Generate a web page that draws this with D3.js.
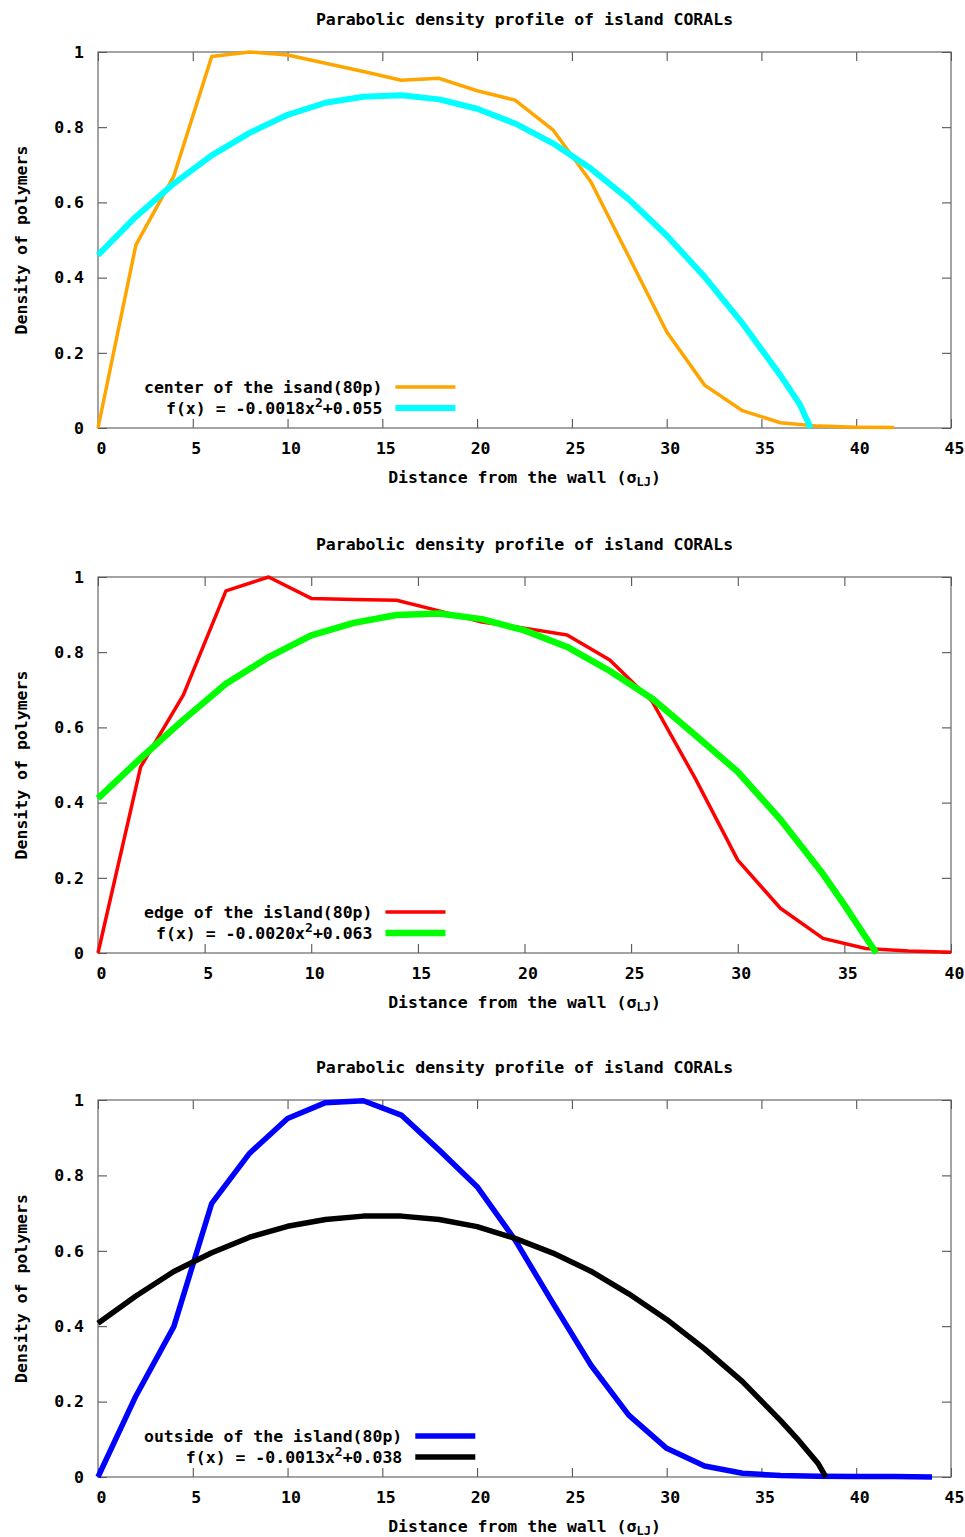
<!DOCTYPE html>
<html>
<head>
<meta charset="utf-8">
<script src="https://cdn.jsdelivr.net/npm/d3@7"></script>
<style>
  body { margin: 0; background: #fff; }
  text { font-family: "DejaVu Sans Mono", monospace; font-size: 16.5px; font-weight: bold; fill: #000; }
</style>
</head>
<body>
<svg id="chart" width="965" height="1537"></svg>
<script>
// --- data ---
const titleText = "Parabolic density profile of island CORALs";
const yTicks = [0, 0.2, 0.4, 0.6, 0.8, 1];

// panel 1: center of the island
const centerX = [0, 2, 4, 6, 8, 10, 12, 14, 16, 18, 20, 22, 24, 26, 28, 30, 32, 34, 36, 38, 40, 42];
const centerY = [0, 0.487, 0.67, 0.988, 1.0, 0.992, 0.97, 0.948, 0.925, 0.93, 0.897, 0.872, 0.793, 0.655, 0.456, 0.256, 0.114, 0.046, 0.014, 0.005, 0.002, 0.001];
const centerFitX = [0, 2, 4, 6, 8, 10, 12, 14, 16, 18, 20, 22, 24, 26, 28, 30, 32, 34, 36, 37, 37.6];
const centerFitY = [0.46, 0.562, 0.65, 0.725, 0.785, 0.833, 0.865, 0.881, 0.885, 0.874, 0.849, 0.81, 0.757, 0.69, 0.608, 0.512, 0.402, 0.278, 0.14, 0.065, 0];

// panel 2: edge of the island
const edgeX = [0, 2, 4, 6, 8, 10, 12, 14, 16, 18, 20, 22, 24, 26, 28, 30, 32, 34, 36, 38, 40];
const edgeY = [0, 0.495, 0.686, 0.963, 1.0, 0.943, 0.94, 0.938, 0.91, 0.88, 0.864, 0.846, 0.779, 0.668, 0.465, 0.247, 0.119, 0.039, 0.012, 0.005, 0.002];
const edgeFitX = [0, 2, 4, 6, 8, 10, 12, 14, 16, 18, 20, 22, 24, 26, 28, 30, 32, 34, 35, 36, 36.5];
const edgeFitY = [0.411, 0.518, 0.62, 0.716, 0.787, 0.845, 0.878, 0.899, 0.903, 0.888, 0.858, 0.814, 0.75, 0.676, 0.58, 0.482, 0.355, 0.21, 0.128, 0.042, 0];

// panel 3: outside of the island
const outsideX = [0, 2, 4, 6, 8, 10, 12, 14, 16, 18, 20, 22, 24, 26, 28, 30, 32, 34, 36, 38, 40, 42, 44];
const outsideY = [0, 0.215, 0.399, 0.726, 0.859, 0.951, 0.993, 0.998, 0.96, 0.867, 0.77, 0.629, 0.461, 0.297, 0.164, 0.076, 0.029, 0.01, 0.004, 0.002, 0.001, 0.001, 0];
const outsideFitX = [0, 2, 4, 6, 8, 10, 12, 14, 16, 18, 20, 22, 24, 26, 28, 30, 32, 34, 36, 37, 38, 38.4];
const outsideFitY = [0.408, 0.48, 0.545, 0.595, 0.636, 0.665, 0.683, 0.692, 0.692, 0.683, 0.664, 0.633, 0.594, 0.546, 0.486, 0.418, 0.34, 0.253, 0.15, 0.095, 0.035, 0];

const panels = [
  { top: 52, bottom: 428, xMax: 45, xTicks: d3.range(0, 46, 5),
    series: [
      { name: "center of the isand(80p)", x: centerX, y: centerY, color: "#ffa500", w: 3.5 },
      { name: "f(x) = -0.0018x", sup: "2", rest: "+0.055", x: centerFitX, y: centerFitY, color: "#00ffff", w: 6 }
    ] },
  { top: 577, bottom: 953, xMax: 40, xTicks: d3.range(0, 41, 5),
    series: [
      { name: "edge of the island(80p)", x: edgeX, y: edgeY, color: "#ff0000", w: 3.5 },
      { name: "f(x) = -0.0020x", sup: "2", rest: "+0.063", x: edgeFitX, y: edgeFitY, color: "#00ff00", w: 6.5 }
    ] },
  { top: 1100, bottom: 1477, xMax: 45, xTicks: d3.range(0, 46, 5),
    series: [
      { name: "outside of the island(80p)", x: outsideX, y: outsideY, color: "#0000ff", w: 5.5 },
      { name: "f(x) = -0.0013x", sup: "2", rest: "+0.038", x: outsideFitX, y: outsideFitY, color: "#000000", w: 5.5 }
    ] }
];

const left = 98, right = 951;
const svg = d3.select("#chart");

function plot(p) {
  const h = p.bottom - p.top, w = right - left;
  const g = svg.append("g").attr("transform", `translate(${left},${p.top})`);
  const x = d3.scaleLinear().domain([0, p.xMax]).range([0, w]);
  const y = d3.scaleLinear().domain([0, 1]).range([h, 0]);

  // axes, ticks pointing inwards on all sides
  g.append("g").attr("transform", `translate(0,${h})`)
    .call(d3.axisBottom(x).tickValues(p.xTicks).tickSize(-9).tickPadding(14).tickFormat(d3.format("d")))
    .selectAll(".tick text").attr("dx", 3);
  g.append("g")
    .call(d3.axisTop(x).tickValues(p.xTicks).tickSize(-9).tickFormat(""));
  g.append("g")
    .call(d3.axisLeft(y).tickValues(yTicks).tickSize(-9).tickPadding(14).tickFormat(d => d === 0 || d === 1 ? d : d.toFixed(1)));
  g.append("g").attr("transform", `translate(${w},0)`)
    .call(d3.axisRight(y).tickValues(yTicks).tickSize(-9).tickFormat(""));
  g.selectAll(".domain").remove();
  g.selectAll(".tick line").attr("stroke", "#444");
  g.selectAll(".tick text").style("font-size", "16.5px").attr("fill", "#000");

  g.append("rect").attr("width", w).attr("height", h)
    .attr("fill", "none").attr("stroke", "#666").attr("stroke-width", 1.2);

  // curves
  const line = d3.line().x(d => x(d[0])).y(d => y(d[1]));
  p.series.forEach(s => {
    g.append("path")
      .datum(s.x.map((v, i) => [v, s.y[i]]))
      .attr("d", line)
      .attr("fill", "none")
      .attr("stroke", s.color)
      .attr("stroke-width", s.w)
      .attr("stroke-linejoin", "round");
  });

  // key, bottom left
  const keyTexts = p.series.map((s, i) => {
    const t = g.append("text").attr("y", h - 41 + i * 21 + 6).attr("text-anchor", "end");
    t.append("tspan").text(s.name);
    if (s.sup) {
      t.append("tspan").attr("dy", -7).style("font-size", "13px").text(s.sup);
      t.append("tspan").attr("dy", 7).text(s.rest);
    }
    return t;
  });
  const maxW = d3.max(keyTexts, t => t.node().getComputedTextLength());
  const keyEnd = 46 + maxW;
  keyTexts.forEach(t => t.attr("x", keyEnd));
  p.series.forEach((s, i) => {
    g.append("line")
      .attr("x1", keyEnd + 13).attr("x2", keyEnd + 73)
      .attr("y1", h - 41 + i * 21).attr("y2", h - 41 + i * 21)
      .attr("stroke", s.color).attr("stroke-width", s.w);
  });

  // title and axis labels
  g.append("text").attr("x", w / 2).attr("y", -27).attr("text-anchor", "middle").text(titleText);
  const xl = g.append("text").attr("x", w / 2).attr("y", h + 55).attr("text-anchor", "middle");
  xl.append("tspan").text("Distance from the wall (σ");
  xl.append("tspan").attr("dy", 3).style("font-size", "12px").text("LJ");
  xl.append("tspan").attr("dy", -3).text(")");
  g.append("text")
    .attr("transform", `translate(-71,${h / 2}) rotate(-90)`)
    .attr("text-anchor", "middle")
    .text("Density of polymers");
}

panels.forEach(plot);
</script>
</body>
</html>
